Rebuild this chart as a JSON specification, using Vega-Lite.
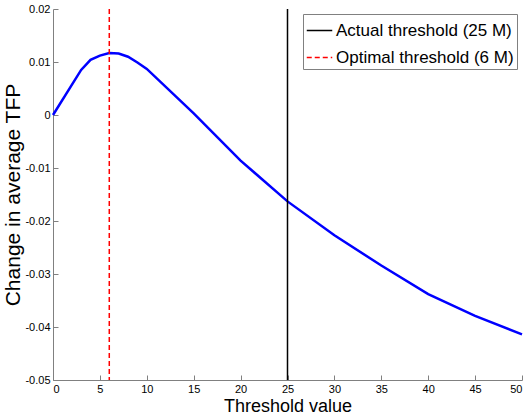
{
  "$schema": "https://vega.github.io/schema/vega-lite/v6.json",
  "width": 469,
  "height": 371,
  "autosize": {"type": "none"},
  "padding": {"left": 53, "top": 9, "right": 6, "bottom": 36},
  "background": "white",
  "config": {
    "view": {"stroke": null},
    "font": "Liberation Sans",
    "axis": {
      "grid": false,
      "domainColor": "#808080",
      "tickColor": "#808080",
      "tickSize": -5,
      "tickWidth": 1,
      "labelColor": "black",
      "labelFont": "Liberation Sans",
      "labelFontSize": 11,
      "titleFont": "Liberation Sans",
      "titleFontWeight": "normal",
      "titleColor": "black"
    }
  },
  "datasets": {
    "curve": [
      {"threshold": 0, "tfp": 0.0},
      {"threshold": 3, "tfp": 0.0085},
      {"threshold": 4, "tfp": 0.0104},
      {"threshold": 5, "tfp": 0.0112},
      {"threshold": 6, "tfp": 0.0117},
      {"threshold": 7, "tfp": 0.0116},
      {"threshold": 8, "tfp": 0.0110},
      {"threshold": 9, "tfp": 0.0099},
      {"threshold": 10, "tfp": 0.0087},
      {"threshold": 15, "tfp": 0.0003},
      {"threshold": 20, "tfp": -0.0086},
      {"threshold": 25, "tfp": -0.0163},
      {"threshold": 30, "tfp": -0.0227},
      {"threshold": 35, "tfp": -0.0284},
      {"threshold": 40, "tfp": -0.0338},
      {"threshold": 45, "tfp": -0.0379},
      {"threshold": 50, "tfp": -0.0414}
    ],
    "rules": [
      {"threshold": 25, "label": "Actual threshold (25 M)"},
      {"threshold": 6, "label": "Optimal threshold (6 M)"}
    ]
  },
  "layer": [
    {
      "data": {"name": "curve"},
      "mark": {"type": "line", "color": "#0000ff", "strokeWidth": 2.5},
      "encoding": {
        "x": {
          "field": "threshold", "type": "quantitative",
          "scale": {"domain": [0, 50], "nice": false},
          "axis": {"values": [0,5,10,15,20,25,30,35,40,45,50], "title": "Threshold value", "titleFontSize": 18, "labelPadding": 8, "titlePadding": 3}
        },
        "y": {
          "field": "tfp", "type": "quantitative",
          "scale": {"domain": [-0.05, 0.02], "nice": false, "zero": false},
          "axis": {
            "values": [-0.05,-0.04,-0.03,-0.02,-0.01,0,0.01,0.02],
            "labelExpr": "replace(format(datum.value, '.2~f'), '\u2212', '-')",
            "title": "Change in average TFP",
            "titleFontSize": 21,
            "labelPadding": 8,
            "titlePadding": 1
          }
        }
      }
    },
    {
      "data": {"name": "rules"},
      "mark": {"type": "rule", "strokeWidth": 1.5},
      "encoding": {
        "x": {"field": "threshold", "type": "quantitative"},
        "color": {
          "field": "label", "type": "nominal",
          "scale": {"domain": ["Actual threshold (25 M)", "Optimal threshold (6 M)"], "range": ["#000000", "#ff0000"]},
          "legend": {
            "title": null,
            "orient": "top-right",
            "offset": 5,
            "symbolType": "stroke",
            "symbolSize": 650,
            "symbolStrokeWidth": 1.5,
            "labelFontSize": 17,
            "labelLimit": 0,
            "labelFont": "Liberation Sans",
            "labelColor": "black",
            "strokeColor": "#808080",
            "fillColor": "white",
            "padding": 3,
            "rowPadding": 5,
            "labelOffset": 3
          }
        },
        "strokeDash": {
          "field": "label", "type": "nominal",
          "scale": {"domain": ["Actual threshold (25 M)", "Optimal threshold (6 M)"], "range": [[1, 0], [5, 3]]},
          "legend": null
        }
      }
    }
  ]
}
